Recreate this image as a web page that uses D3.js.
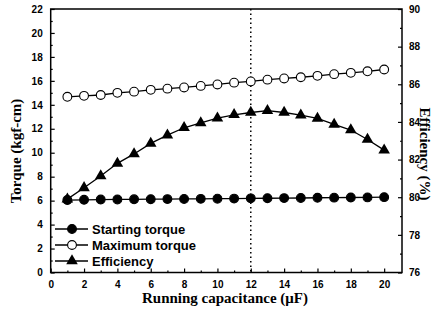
<!DOCTYPE html>
<html><head><meta charset="utf-8">
<script src="https://cdn.jsdelivr.net/npm/d3@7"></script>
<style>body{margin:0;background:#fff}svg{display:block}</style>
</head><body>
<script>
const capacitance = [1,2,3,4,5,6,7,8,9,10,11,12,13,14,15,16,17,18,19,20];
const startingTorque = [6.05,6.07,6.09,6.1,6.11,6.12,6.13,6.14,6.15,6.16,6.17,6.19,6.2,6.21,6.22,6.24,6.25,6.26,6.27,6.29];
const maximumTorque = [14.67,14.75,14.82,15.0,15.1,15.25,15.35,15.45,15.58,15.7,15.85,15.95,16.1,16.2,16.3,16.42,16.56,16.67,16.8,16.95];
const efficiency = [79.9,80.5,81.13,81.8,82.3,82.86,83.3,83.69,83.95,84.2,84.38,84.5,84.6,84.5,84.36,84.19,83.87,83.57,83.07,82.5];
const xTicks = [0,2,4,6,8,10,12,14,16,18,20];
const yLeftTicks = [0,2,4,6,8,10,12,14,16,18,20,22];
const yRightTicks = [76,78,80,82,84,86,88,90];
const legendLabels = ["Starting torque","Maximum torque","Efficiency"];
const markerLine = 12;

const W=440,H=315;
const m={l:50.7,r:402,t:9,b:272.5};
const svg=d3.select("body").append("svg").attr("width",W).attr("height",H);
const x=d3.scaleLinear().domain([0,21.07]).range([m.l,m.r]);
const yL=d3.scaleLinear().domain([0,22]).range([m.b,m.t]);
const yR=d3.scaleLinear().domain([76,90]).range([m.b,m.t]);

const tickFont="Arial, 'Liberation Sans', sans-serif";
svg.append("rect").attr("x",m.l).attr("y",m.t).attr("width",m.r-m.l).attr("height",m.b-m.t)
  .attr("fill","none").attr("stroke","#000").attr("stroke-width",1.5);

const gx=svg.append("g").attr("transform",`translate(0,${m.b})`)
  .call(d3.axisBottom(x).tickValues(xTicks).tickSize(-4).tickPadding(8));
const gxm=svg.append("g").attr("transform",`translate(0,${m.b})`)
  .call(d3.axisBottom(x).tickValues(d3.range(1,21,2)).tickSize(-2).tickFormat(""));
const gl=svg.append("g").attr("transform",`translate(${m.l},0)`)
  .call(d3.axisLeft(yL).tickValues(yLeftTicks).tickSize(-4).tickPadding(8));
const glm=svg.append("g").attr("transform",`translate(${m.l},0)`)
  .call(d3.axisLeft(yL).tickValues(d3.range(1,22,2)).tickSize(-2).tickFormat(""));
const gr=svg.append("g").attr("transform",`translate(${m.r},0)`)
  .call(d3.axisRight(yR).tickValues(yRightTicks).tickSize(-4).tickPadding(7));
const grm=svg.append("g").attr("transform",`translate(${m.r},0)`)
  .call(d3.axisRight(yR).tickValues(d3.range(77,90,2)).tickSize(-2).tickFormat(""));
[gx,gxm,gl,glm,gr,grm].forEach(g=>{
  g.select(".domain").remove();
  g.selectAll("line").attr("stroke","#000").attr("stroke-width",1.2);
  g.selectAll("text").attr("font-family",tickFont).attr("font-weight","bold").attr("font-size",10).attr("fill","#000");
});

svg.append("line").attr("x1",x(markerLine)).attr("x2",x(markerLine)).attr("y1",m.t).attr("y2",m.b)
  .attr("stroke","#000").attr("stroke-width",1.5).attr("stroke-dasharray","1.5,3");

const line=(ys,yS)=>d3.line().x((d,i)=>x(capacitance[i])).y(d=>yS(d))(ys);
const series=[
  {vals:startingTorque,y:yL,type:"filled"},
  {vals:maximumTorque,y:yL,type:"open"},
  {vals:efficiency,y:yR,type:"tri"}
];
const tri=d3.symbol().type(d3.symbolTriangle).size(58);
function drawMarker(g,cx,cy,type){
  if(type==="tri") g.append("path").attr("d",tri()).attr("transform",`translate(${cx},${cy})`).attr("fill","#000");
  else g.append("circle").attr("cx",cx).attr("cy",cy).attr("r",4.4)
    .attr("fill",type==="open"?"#fff":"#000").attr("stroke","#000").attr("stroke-width",1.1);
}
series.forEach(s=>{
  svg.append("path").attr("d",line(s.vals,s.y)).attr("fill","none").attr("stroke","#000").attr("stroke-width",1.3);
  const g=svg.append("g");
  s.vals.forEach((v,i)=>drawMarker(g,x(capacitance[i]),s.y(v),s.type));
});

const lg=svg.append("g");
legendLabels.forEach((lab,i)=>{
  const yy=229+i*16;
  lg.append("line").attr("x1",55).attr("x2",88).attr("y1",yy).attr("y2",yy).attr("stroke","#000").attr("stroke-width",1.3);
  drawMarker(lg,72,yy,series[i].type);
  lg.append("text").attr("x",92).attr("y",yy+4.5).text(lab)
    .attr("font-family",tickFont).attr("font-weight","bold").attr("font-size",13);
});

const titleFont="'Liberation Serif','Times New Roman',serif";
svg.append("text").attr("x",225).attr("y",303).attr("text-anchor","middle")
  .attr("font-family",titleFont).attr("font-weight","bold").attr("font-size",15).text("Running capacitance (μF)");
svg.append("text").attr("transform",`translate(21,151) rotate(-90)`).attr("text-anchor","middle")
  .attr("font-family",titleFont).attr("font-weight","bold").attr("font-size",15).text("Torque (kgf-cm)");
svg.append("text").attr("transform",`translate(420,154) rotate(90)`).attr("text-anchor","middle")
  .attr("font-family",titleFont).attr("font-weight","bold").attr("font-size",15).text("Efficiency (%)");
</script>
</body></html>
